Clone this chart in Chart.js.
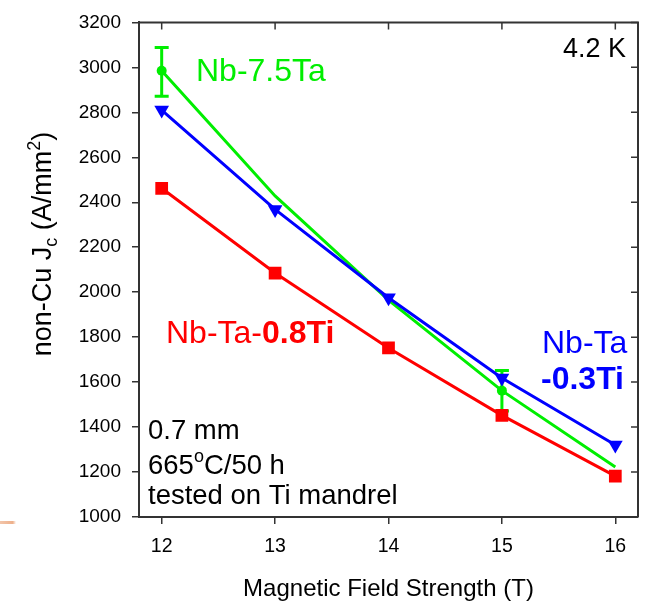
<!DOCTYPE html>
<html>
<head>
<meta charset="utf-8">
<script src="https://cdn.jsdelivr.net/npm/chart.js@4"></script>
<style>
  html, body { margin: 0; padding: 0; background: #fff; }
  #wrap { width: 647px; height: 601px; }
</style>
</head>
<body>
<div id="wrap"><canvas id="jcChart" width="647" height="601"></canvas></div>
<script>
// === Jc vs field, 0.7 mm wires at 4.2 K ===

const fields = [12, 13, 14, 15, 16];
const fieldTicks = [12, 13, 14, 15, 16];
const jcTicks = [1000, 1200, 1400, 1600, 1800, 2000, 2200, 2400, 2600, 2800, 3000, 3200];

const jcNbTa03Ti = [2810, 2368, 1975, 1618, 1320];
const jcNbTa08Ti = [2462, 2085, 1752, 1452, 1182];
const jcNb75Ta = [2985, 2428, 1965, 1562, 1222];
// spread on the measured Nb-7.5Ta points only
const jcNb75TaLow = [2872, null, null, 1472, null];
const jcNb75TaHigh = [3088, null, null, 1652, null];

const FONT = "'Liberation Sans', Arial, sans-serif";
const AXIS = '#333333';
const BLUE = '#0000ff';
const RED = '#ff0000';
const GREEN = '#00ee00';

function pts(values) {
    return fields.map((f, i) => ({ x: f, y: values[i] }));
}

const notes = {
    id: 'notes',
    beforeDatasetsDraw(chart) {
        const { ctx, scales: { x, y } } = chart;
        ctx.save();
        ctx.strokeStyle = GREEN;
        ctx.lineWidth = 3;
        fields.forEach((f, i) => {
            if (jcNb75TaHigh[i] == null) return;
            const px = x.getPixelForValue(f);
            const top = y.getPixelForValue(jcNb75TaHigh[i]);
            const bot = y.getPixelForValue(jcNb75TaLow[i]);
            ctx.beginPath();
            ctx.moveTo(px, top); ctx.lineTo(px, bot);
            ctx.moveTo(px - 7, top); ctx.lineTo(px + 7, top);
            ctx.moveTo(px - 7, bot); ctx.lineTo(px + 7, bot);
            ctx.stroke();
        });
        ctx.restore();
    },
    afterDraw(chart) {
        const { ctx, chartArea: a, scales: { x, y } } = chart;
        ctx.save();

        // top and right edges of the frame, ticks pointing inwards
        ctx.strokeStyle = AXIS;
        ctx.lineWidth = 2;
        ctx.beginPath();
        ctx.moveTo(a.left, a.top); ctx.lineTo(a.right, a.top); ctx.lineTo(a.right, a.bottom);
        ctx.stroke();
        ctx.lineWidth = 1.5;
        ctx.beginPath();
        fieldTicks.forEach(v => {
            const px = x.getPixelForValue(v);
            ctx.moveTo(px, a.top); ctx.lineTo(px, a.top + 7);
        });
        jcTicks.forEach(v => {
            const py = y.getPixelForValue(v);
            ctx.moveTo(a.right, py); ctx.lineTo(a.right - 7, py);
        });
        ctx.stroke();

        // y axis title with sub- and superscript
        ctx.save();
        ctx.translate(51, 244);
        ctx.rotate(-Math.PI / 2);
        ctx.fillStyle = '#000';
        const big = '27px ' + FONT, small = '18px ' + FONT;
        const parts = [
            ['non-Cu J', big, 0], ['c', small, 6], [' (A/mm', big, 0], ['2', small, -11], [')', big, 0]
        ];
        let total = 0;
        parts.forEach(p => { ctx.font = p[1]; total += ctx.measureText(p[0]).width; });
        let cx = -total / 2;
        ctx.textBaseline = 'alphabetic';
        parts.forEach(p => {
            ctx.font = p[1];
            ctx.fillText(p[0], cx, p[2]);
            cx += ctx.measureText(p[0]).width;
        });
        ctx.restore();

        ctx.textBaseline = 'alphabetic';
        ctx.textAlign = 'left';

        // series labels
        ctx.font = '32px ' + FONT;
        ctx.fillStyle = GREEN;
        ctx.fillText('Nb-7.5Ta', 196, 81);

        ctx.fillStyle = RED;
        ctx.fillText('Nb-Ta-', 166, 343);
        let w = ctx.measureText('Nb-Ta-').width;
        ctx.font = 'bold 32px ' + FONT;
        ctx.fillText('0.8Ti', 166 + w, 343);

        ctx.fillStyle = BLUE;
        ctx.font = '32px ' + FONT;
        ctx.fillText('Nb-Ta', 542, 353);
        ctx.font = 'bold 32px ' + FONT;
        ctx.fillText('-0.3Ti', 541, 389);

        // conditions
        ctx.fillStyle = '#000';
        ctx.font = '27px ' + FONT;
        ctx.textAlign = 'right';
        ctx.fillText('4.2 K', 626, 57);
        ctx.textAlign = 'left';
        ctx.font = '27.5px ' + FONT;
        ctx.fillText('0.7 mm', 148, 439);
        ctx.fillText('665', 148, 474);
        w = ctx.measureText('665').width;
        ctx.font = '18px ' + FONT;
        ctx.fillText('o', 148 + w, 462);
        const wo = ctx.measureText('o').width;
        ctx.font = '27.5px ' + FONT;
        ctx.fillText('C/50 h', 148 + w + wo, 474);
        ctx.fillText('tested on Ti mandrel', 148, 504);

        // faint orange stroke at the left edge
        const g = ctx.createLinearGradient(0, 0, 16, 0);
        g.addColorStop(0, 'rgba(232,150,100,0.55)');
        g.addColorStop(0.8, 'rgba(232,150,100,0.75)');
        g.addColorStop(1, 'rgba(232,150,100,0)');
        ctx.fillStyle = g;
        ctx.fillRect(0, 521, 16, 3);

        ctx.restore();
    }
};

const ctx = document.getElementById('jcChart').getContext('2d');
new Chart(ctx, {
    type: 'line',
    data: {
        datasets: [
            { label: 'Nb-Ta-0.3Ti', data: pts(jcNbTa03Ti), borderColor: BLUE, backgroundColor: BLUE,
              borderWidth: 3, pointStyle: 'triangle', pointRotation: 180, pointRadius: 8.5, pointBorderWidth: 0 },
            { label: 'Nb-Ta-0.8Ti', data: pts(jcNbTa08Ti), borderColor: RED, backgroundColor: RED,
              borderWidth: 3, pointStyle: 'rect', pointRadius: 9, pointBorderWidth: 0 },
            { label: 'Nb-7.5Ta', data: pts(jcNb75Ta), borderColor: GREEN, backgroundColor: GREEN,
              borderWidth: 3, pointStyle: 'circle', pointBorderWidth: 0,
              pointRadius: c => jcNb75TaHigh[c.dataIndex] != null ? 5 : 0 }
        ]
    },
    options: {
        responsive: false,
        animation: false,
        devicePixelRatio: 1,
        layout: { padding: { top: 16, right: 7, left: 0, bottom: 0 } },
        plugins: { legend: { display: false }, tooltip: { enabled: false } },
        scales: {
            x: {
                type: 'linear', min: 11.8, max: 16.2,
                afterBuildTicks: s => { s.ticks = fieldTicks.map(v => ({ value: v })); },
                afterFit: s => { s.height = 84; },
                grid: { drawOnChartArea: false, tickLength: 7, color: AXIS, lineWidth: 1.5 },
                border: { color: AXIS, width: 2 },
                ticks: { color: '#000', font: { family: FONT, size: 19.5 }, padding: 11, maxRotation: 0,
                         callback: v => String(v) },
                title: { display: true, text: 'Magnetic Field Strength (T)', color: '#000',
                         font: { family: FONT, size: 24, lineHeight: 1 }, padding: { top: 0, bottom: 0 } }
            },
            y: {
                min: 1000, max: 3200,
                afterBuildTicks: s => { s.ticks = jcTicks.map(v => ({ value: v })); },
                afterFit: s => { s.width = 139; },
                grid: { drawOnChartArea: false, tickLength: 7, color: AXIS, lineWidth: 1.5 },
                border: { color: AXIS, width: 2 },
                ticks: { color: '#000', font: { family: FONT, size: 19 }, padding: 11,
                         callback: v => String(v) }
            }
        }
    },
    plugins: [notes]
});
</script>
</body>
</html>
